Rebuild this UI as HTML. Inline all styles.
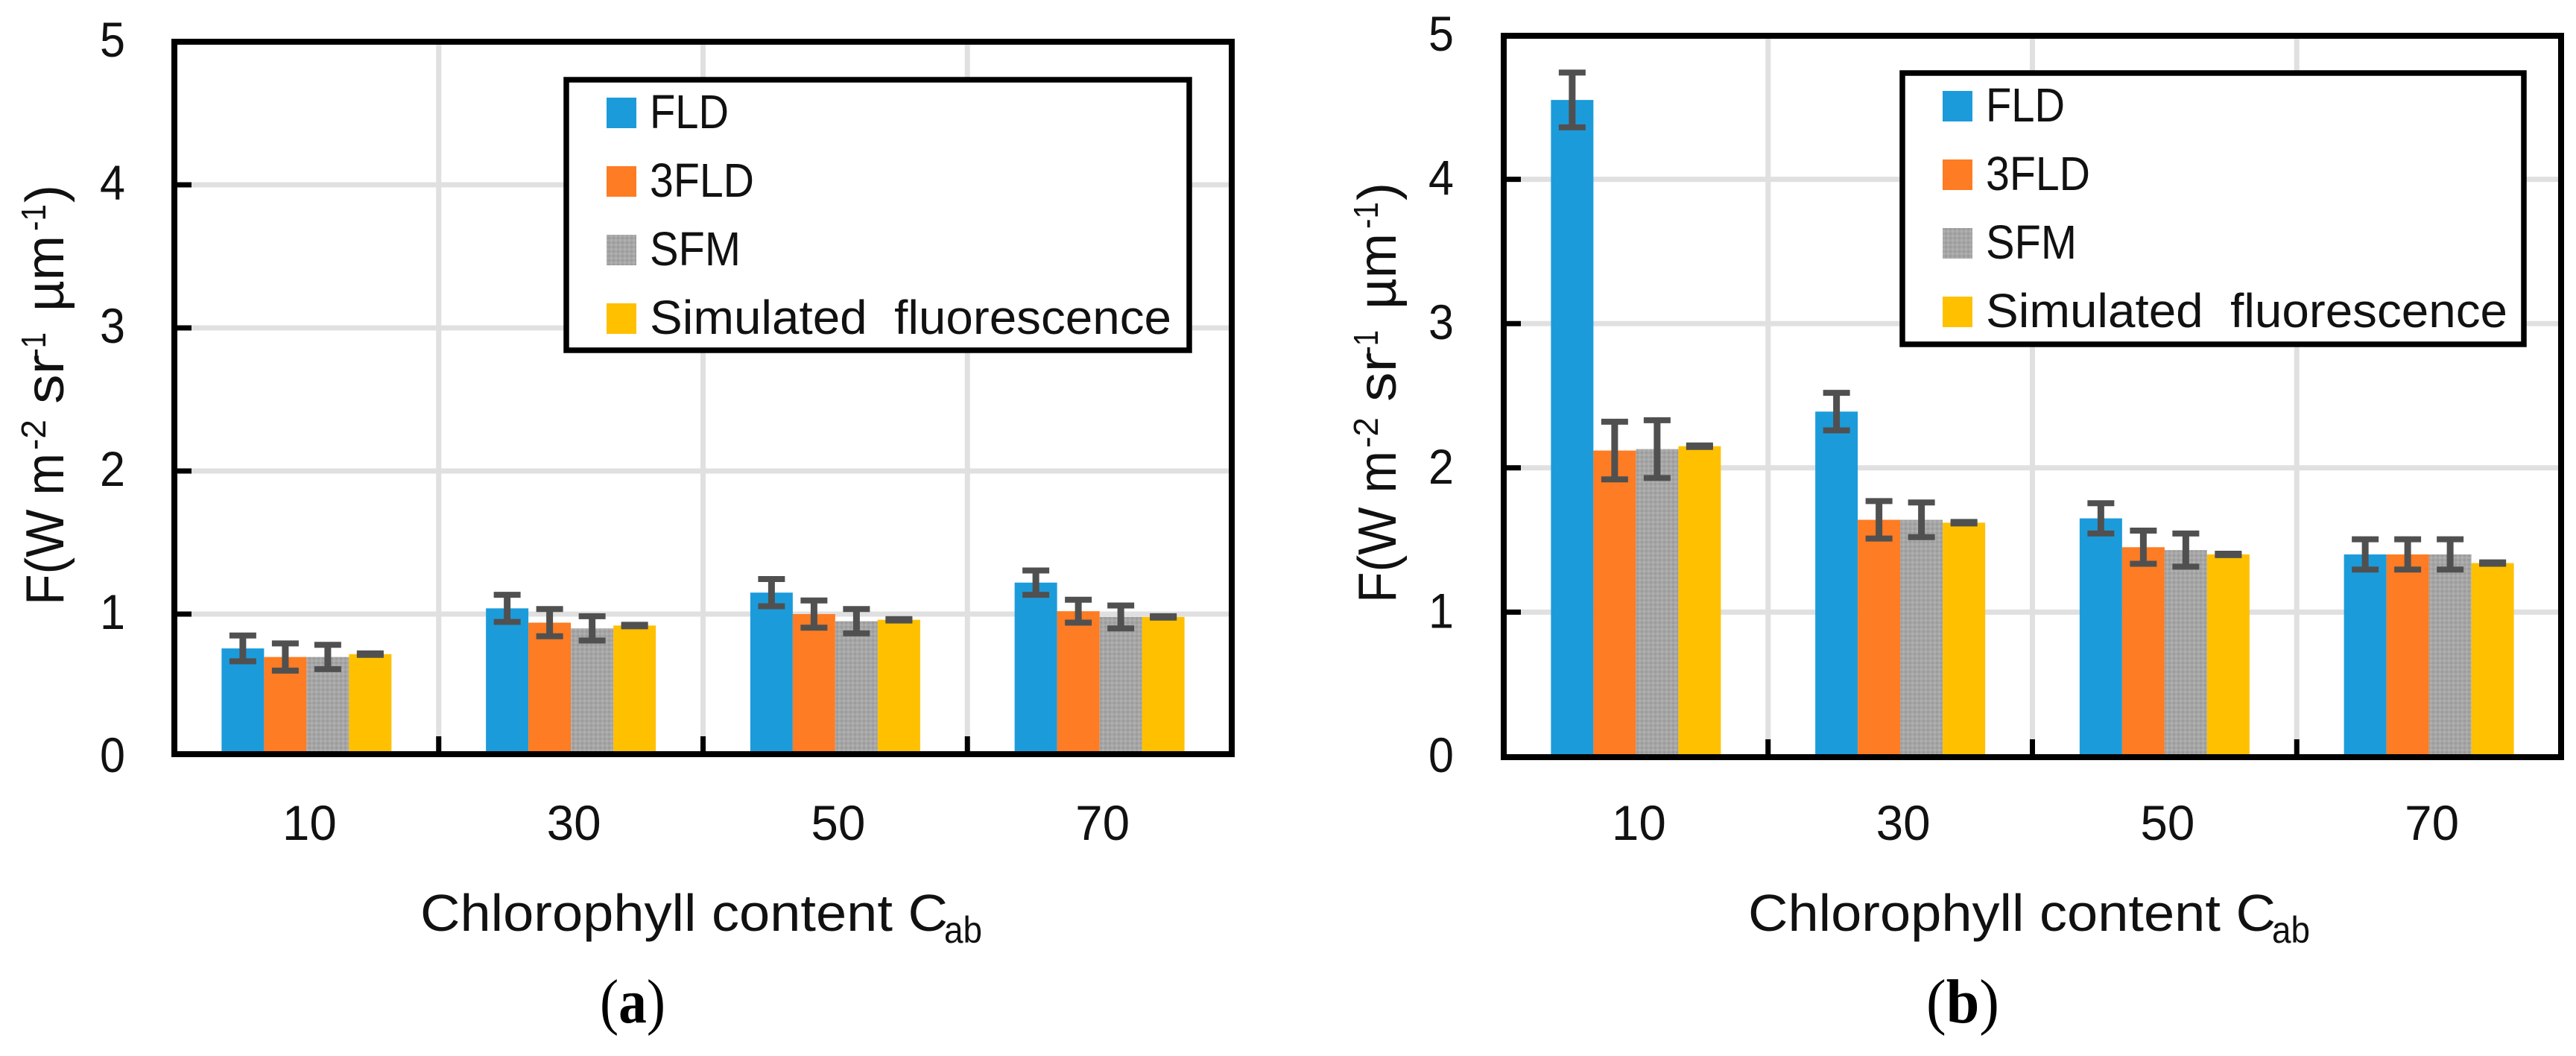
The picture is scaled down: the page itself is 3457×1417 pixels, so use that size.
<!DOCTYPE html>
<html lang="en">
<head>
<meta charset="utf-8">
<title>Fluorescence retrieval by chlorophyll content</title>
<style>
  html, body { margin: 0; padding: 0; background: #fff; }
  svg { display: block; }
  text { font-family: "Liberation Sans", sans-serif; fill: #111; }
  .cap { font-family: "Liberation Serif", serif; fill: #000; }
</style>
</head>
<body>
<svg id="figure" xmlns="http://www.w3.org/2000/svg" width="3457" height="1417" viewBox="0 0 3457 1417">
  <defs>
    <pattern id="sfm-dither" patternUnits="userSpaceOnUse" width="6" height="6">
      <rect width="6" height="6" fill="#a6a6a6"></rect>
      <rect width="3" height="3" fill="#9c9c9c"></rect>
      <rect x="3" y="3" width="3" height="3" fill="#afafaf"></rect>
    </pattern>
  </defs>
  <rect width="3457" height="1417" fill="#fff"></rect>

  <g id="panel-a"></g>
  <g id="panel-b"></g>

  <g transform="translate(85,812) rotate(-90)" font-size="72">
    <text x="0" y="0" textLength="204" lengthAdjust="spacingAndGlyphs">F(W m</text>
    <text x="208" y="-24" font-size="46">-2</text>
    <text x="270" y="0" textLength="66" lengthAdjust="spacingAndGlyphs">sr</text>
    <text x="332" y="-24" font-size="46" textLength="34" lengthAdjust="spacingAndGlyphs">-1</text>
    <text x="394" y="0" textLength="102" lengthAdjust="spacingAndGlyphs">µm</text>
    <text x="502" y="-24" font-size="46" textLength="36" lengthAdjust="spacingAndGlyphs">-1</text>
    <text x="540" y="0">)</text>
  </g>
  <text x="564" y="1249" font-size="70" textLength="708" lengthAdjust="spacingAndGlyphs">Chlorophyll content C</text>
  <text x="1267" y="1265" font-size="50" textLength="51" lengthAdjust="spacingAndGlyphs">ab</text>
  <text class="cap" x="805" y="1372" font-size="84" textLength="88" lengthAdjust="spacingAndGlyphs">(<tspan font-weight="bold">a</tspan>)</text>

  <g transform="translate(1873,809) rotate(-90)" font-size="72">
    <text x="0" y="0" textLength="204" lengthAdjust="spacingAndGlyphs">F(W m</text>
    <text x="208" y="-24" font-size="46">-2</text>
    <text x="270" y="0" textLength="66" lengthAdjust="spacingAndGlyphs">sr</text>
    <text x="332" y="-24" font-size="46" textLength="34" lengthAdjust="spacingAndGlyphs">-1</text>
    <text x="394" y="0" textLength="102" lengthAdjust="spacingAndGlyphs">µm</text>
    <text x="502" y="-24" font-size="46" textLength="36" lengthAdjust="spacingAndGlyphs">-1</text>
    <text x="540" y="0">)</text>
  </g>
  <text x="2346" y="1249" font-size="70" textLength="708" lengthAdjust="spacingAndGlyphs">Chlorophyll content C</text>
  <text x="3049" y="1265" font-size="50" textLength="51" lengthAdjust="spacingAndGlyphs">ab</text>
  <text class="cap" x="2585" y="1372" font-size="84" textLength="98" lengthAdjust="spacingAndGlyphs">(<tspan font-weight="bold">b</tspan>)</text>
</svg>

<script>
// ---- chart data ----
const categories = ["10", "30", "50", "70"];
const yTickValues = [0, 1, 2, 3, 4, 5];
const yTickLabels = ["0", "1", "2", "3", "4", "5"];
const seriesNames = ["FLD", "3FLD", "SFM", "Simulated  fluorescence"];
const seriesKeys = ["fld", "3fld", "sfm", "simulated"];
const seriesColors = ["#1c9bdb", "#fe7c23", "url(#sfm-dither)", "#ffc000"];

// Panel (a) values, one array per series, ordered as categories
const aFld = [0.76, 1.04, 1.15, 1.22];
const a3Fld = [0.70, 0.94, 1.00, 1.02];
const aSfm = [0.70, 0.90, 0.95, 0.98];
const aSim = [0.72, 0.92, 0.96, 0.98];
const aFldErr = [0.09, 0.095, 0.095, 0.085];
const a3FldErr = [0.095, 0.095, 0.095, 0.08];
const aSfmErr = [0.085, 0.085, 0.085, 0.08];
const aSimErr = [0.005, 0.005, 0.005, 0.005];

// Panel (b) values
const bFld = [4.55, 2.39, 1.65, 1.40];
const b3Fld = [2.12, 1.64, 1.45, 1.40];
const bSfm = [2.13, 1.64, 1.43, 1.40];
const bSim = [2.15, 1.62, 1.40, 1.34];
const bFldErr = [0.19, 0.13, 0.105, 0.105];
const b3FldErr = [0.20, 0.13, 0.115, 0.105];
const bSfmErr = [0.20, 0.12, 0.115, 0.105];
const bSimErr = [0.005, 0.005, 0.005, 0.005];

// ---- drawing ----
const SVGNS = "http://www.w3.org/2000/svg";

function make(parent, tag, attrs) {
  const el = document.createElementNS(SVGNS, tag);
  for (const k in attrs) el.setAttribute(k, attrs[k]);
  parent.appendChild(el);
  return el;
}

function drawPanel(root, suffix, geo, values, errors) {
  const yScale = v => geo.y0 - v * geo.unit;
  const bandWidth = (geo.right - geo.left) / categories.length;
  const groupCenter = i => geo.left + bandWidth * (i + 0.5);
  const barX = (i, s) => groupCenter(i) - geo.barW * 2 + s * geo.barW;

  // gridlines
  yTickValues.forEach(v => {
    if (v === 0 || v === 5) return;
    const line = make(root, "line", {
      x1: geo.left, x2: geo.right, y1: yScale(v), y2: yScale(v),
      stroke: "#e0e0e0", "stroke-width": 7
    });
    
    
  });
  for (let i = 1; i < categories.length; i++) {
    const x = geo.left + bandWidth * i;
    const line = make(root, "line", {
      x1: x, x2: x, y1: geo.top, y2: geo.frameBottom,
      stroke: "#e0e0e0", "stroke-width": 7
    });
    
    
  }

  // bars
  categories.forEach((cat, i) => {
    values.forEach((series, s) => {
      const bar = make(root, "rect", {
        x: barX(i, s), y: yScale(series[i]), width: geo.barW,
        height: yScale(0) - yScale(series[i]), fill: seriesColors[s]
      });
      
      
    });
  });

  // error bars
  categories.forEach((cat, i) => {
    values.forEach((series, s) => {
      const cx = barX(i, s) + geo.barW / 2;
      const hi = yScale(series[i] + errors[s][i]);
      const lo = yScale(series[i] - errors[s][i]);
      const stem = make(root, "line", {
        x1: cx, x2: cx, y1: hi, y2: lo, stroke: "#505050", "stroke-width": 9
      });
      
      
      const capTop = make(root, "line", {
        x1: cx - 18, x2: cx + 18, y1: hi, y2: hi, stroke: "#505050", "stroke-width": 8
      });
      
      
      const capBottom = make(root, "line", {
        x1: cx - 18, x2: cx + 18, y1: lo, y2: lo, stroke: "#505050", "stroke-width": 8
      });
      
      
    });
  });

  // ticks
  yTickValues.forEach(v => {
    if (v === 0 || v === 5) return;
    const tick = make(root, "line", {
      x1: geo.left, x2: geo.left + 23, y1: yScale(v), y2: yScale(v),
      stroke: "#000", "stroke-width": 7
    });
    
    
  });
  for (let i = 1; i < categories.length; i++) {
    const x = geo.left + bandWidth * i;
    const tick = make(root, "line", {
      x1: x, x2: x, y1: geo.frameBottom - 24, y2: geo.frameBottom,
      stroke: "#000", "stroke-width": 7
    });
    
    
  }

  // plot frame
  const frame = make(root, "rect", {
    x: geo.left, y: geo.top, width: geo.right - geo.left,
    height: geo.frameBottom - geo.top, fill: "none", stroke: "#000", "stroke-width": 8
  });
  
  

  // tick labels
  yTickValues.forEach((v, k) => {
    const label = make(root, "text", {
      x: geo.yLabelX, y: yScale(v) + geo.labelDy, "font-size": 66,
      "text-anchor": "middle", textLength: 34, lengthAdjust: "spacingAndGlyphs"
    });
    label.textContent = yTickLabels[k];
    
    
  });
  categories.forEach((cat, i) => {
    const label = make(root, "text", {
      x: groupCenter(i) + 4, y: 1127, "font-size": 66,
      "text-anchor": "middle", textLength: 73, lengthAdjust: "spacingAndGlyphs"
    });
    label.textContent = cat;
    
    
  });

  // legend
  const legend = make(root, "g", {});
  
  
  const box = make(legend, "rect", {
    x: geo.legX, y: geo.legY, width: geo.legW, height: geo.legH,
    fill: "#fff", stroke: "#000", "stroke-width": 7.5
  });
  
  
  const labelWidths = [106, 140, 122, 700];
  seriesNames.forEach((name, s) => {
    const rowBottom = geo.legY + 65 + s * geo.legStep;
    const swatch = make(legend, "rect", {
      x: geo.legX + 54, y: rowBottom - 41, width: 40, height: 41, fill: seriesColors[s]
    });
    
    
    const label = make(legend, "text", {
      x: geo.legX + 112, y: rowBottom, "font-size": 64,
      textLength: labelWidths[s], lengthAdjust: "spacingAndGlyphs"
    });
    label.setAttribute("xml:space", "preserve");
    label.style.whiteSpace = "pre";
    label.textContent = name;
    
    
  });
}

drawPanel(
  document.getElementById("panel-a"), "a",
  { left: 234, right: 1653, top: 56, frameBottom: 1012, y0: 1016, unit: 192, barW: 57,
    yLabelX: 151, labelDy: 20, legX: 760, legY: 107, legW: 836, legH: 363, legStep: 92 },
  [aFld, a3Fld, aSfm, aSim],
  [aFldErr, a3FldErr, aSfmErr, aSimErr]
);
drawPanel(
  document.getElementById("panel-b"), "b",
  { left: 2018, right: 3437, top: 48, frameBottom: 1016, y0: 1015, unit: 193.6, barW: 57,
    yLabelX: 1934, labelDy: 21, legX: 2553, legY: 98, legW: 834, legH: 364, legStep: 92 },
  [bFld, b3Fld, bSfm, bSim],
  [bFldErr, b3FldErr, bSfmErr, bSimErr]
);
</script>
</body>
</html>
